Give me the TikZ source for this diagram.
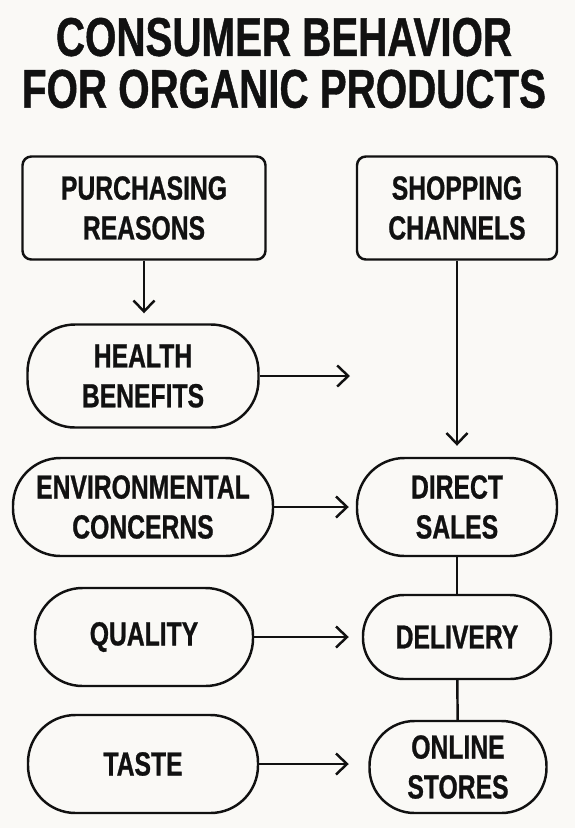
\documentclass[tikz,border=0pt]{standalone}
\usepackage{fontspec}
\setmainfont{Liberation Sans}[FakeStretch=0.74, BoldFeatures={FakeBold=0.8}]
\usepackage{tikz}
\usetikzlibrary{arrows.meta, positioning}

\definecolor{paper}{RGB}{250,249,246}
\definecolor{ink}{RGB}{17,17,17}

\begin{document}
\begin{tikzpicture}[
        box/.style={draw=ink, line width=1.4pt, rounded corners=5pt,
                    align=center, text=ink, font=\fontsize{19}{22.7}\selectfont\bfseries},
        pill/.style={box, rounded corners=0.95cm},
        arr/.style={-{Straight Barb[length=2.2mm, width=4.2mm, line width=1.4pt]}, line width=1.4pt, draw=ink},
        link/.style={line width=1.4pt, draw=ink}
    ]
        \fill[paper] (0,0) rectangle (11.5,-16.56);
        \useasboundingbox (0,0) rectangle (11.5,-16.56);

        \node[text=ink, align=center, font=\fontsize{31}{29.5}\selectfont\bfseries] (title) at (5.68,-1.26)
            {CONSUMER BEHAVIOR\\FOR ORGANIC PRODUCTS};

        \node[box, minimum width=4.86cm, minimum height=2.06cm] (reasons) at (2.88,-4.16)
            {PURCHASING\\REASONS};
        \node[box, minimum width=4cm, minimum height=2.06cm] (channels) at (9.14,-4.16)
            {SHOPPING\\CHANNELS};

        \node[pill, minimum width=4.62cm, minimum height=2.06cm] (health) at (2.86,-7.52)
            {HEALTH\\BENEFITS};
        \node[pill, minimum width=5.2cm, minimum height=1.96cm] (environment) at (2.86,-10.14)
            {ENVIRONMENTAL\\CONCERNS};
        \node[pill, minimum width=4.36cm, minimum height=1.96cm] (quality) at (2.88,-12.74)
            {QUALITY};
        \node[pill, minimum width=4.6cm, minimum height=1.96cm] (taste) at (2.86,-15.28)
            {TASTE};

        \node[pill, minimum width=4cm, minimum height=1.96cm] (direct) at (9.14,-10.14)
            {DIRECT\\SALES};
        \node[pill, rounded corners=0.82cm, minimum width=3.76cm, minimum height=1.68cm] (delivery) at (9.14,-12.74)
            {DELIVERY};
        \node[pill, rounded corners=0.9cm, minimum width=3.54cm, minimum height=1.84cm] (online) at (9.16,-15.34)
            {ONLINE\\STORES};

        \coordinate (healthend) at (7.0,-7.52);

        \draw[arr, shorten >=0.2cm] (reasons.south) -- (reasons.south |- health.north);
        \draw[arr, shorten >=0.22cm] (channels) -- (direct);
        \draw[arr] (health.east) -- (healthend);
        \foreach \a/\b/\s in {environment/direct/0.14, quality/delivery/0.26, taste/online/0.39}
            \draw[arr, shorten >=\s cm] (\a.east) -- (\a.east -| \b.west);
        \foreach \a/\b in {direct/delivery, delivery/online}
            \draw[link] (\a) -- (\b);
    \end{tikzpicture}
\end{document}
